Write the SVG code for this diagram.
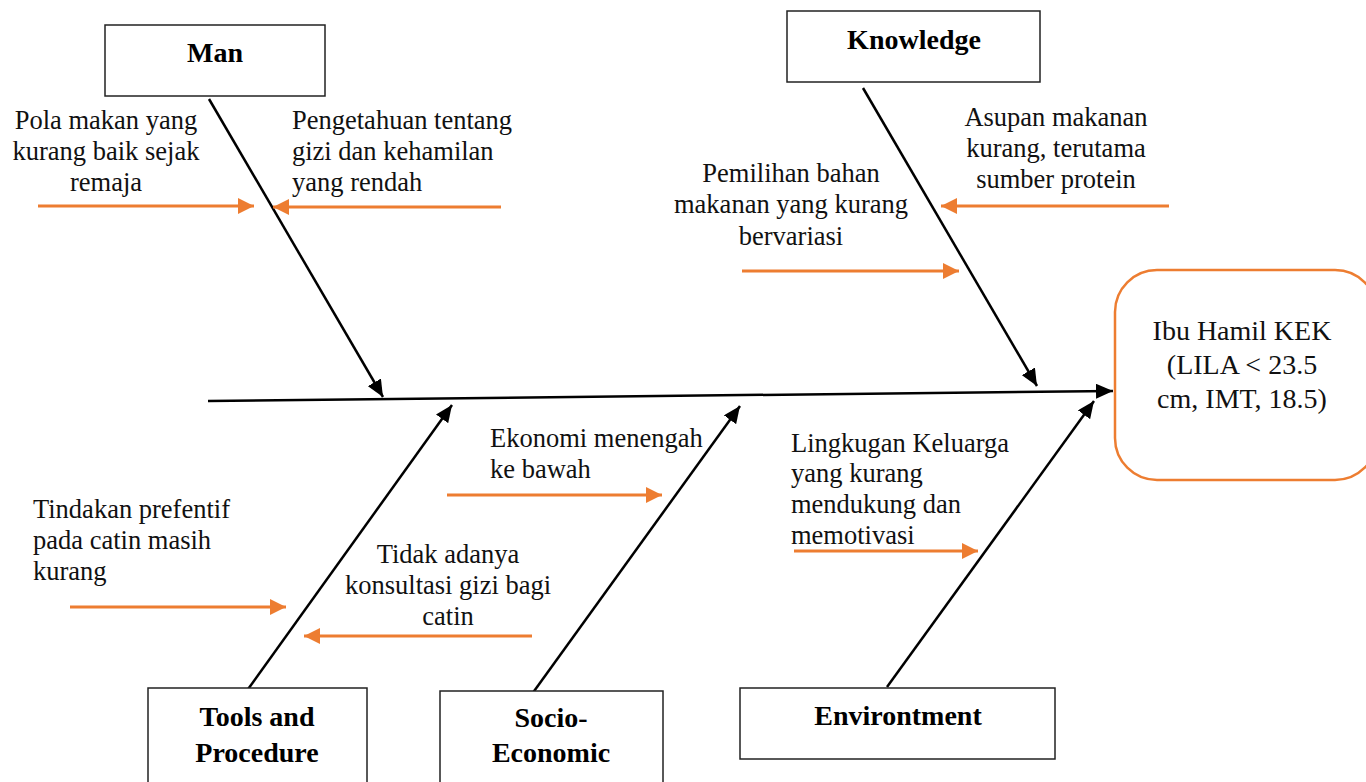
<svg xmlns="http://www.w3.org/2000/svg" width="1366" height="782" viewBox="0 0 1366 782">
<style>
.box{fill:#fff;stroke:#222;stroke-width:1.5}
.lbl{font-family:"Liberation Serif",serif;font-weight:bold;font-size:28px;fill:#000;text-anchor:middle}
.t{font-family:"Liberation Serif",serif;font-size:26.5px;fill:#111}
.c{text-anchor:middle}
.bone{stroke:#000;stroke-width:2.5;fill:none;marker-end:url(#ab)}
.sub{stroke:#ED7D31;stroke-width:3;fill:none;marker-end:url(#ao)}
</style>
<defs>
<marker id="ab" markerUnits="userSpaceOnUse" markerWidth="18" markerHeight="15" refX="17" refY="7.5" orient="auto"><path d="M0,0 L17,7.5 L0,15 z" fill="#000"/></marker>
<marker id="ao" markerUnits="userSpaceOnUse" markerWidth="17" markerHeight="16" refX="16" refY="8" orient="auto"><path d="M0,0 L16,8 L0,16 z" fill="#ED7D31"/></marker>
</defs>
<rect width="1366" height="782" fill="#fff"/>
<g id="connectors">
<line class="bone" x1="208" y1="401" x2="1113" y2="391"/>
<line class="bone" x1="209" y1="99" x2="383" y2="397"/>
<line class="bone" x1="863" y1="88" x2="1037" y2="386"/>
<line class="bone" x1="246" y1="692" x2="452" y2="405"/>
<line class="bone" x1="532" y1="694" x2="740" y2="406"/>
<line class="bone" x1="887" y1="687" x2="1094" y2="401"/>
<line class="sub" x1="38" y1="206" x2="254" y2="206"/>
<line class="sub" x1="501" y1="207" x2="273" y2="207"/>
<line class="sub" x1="1169" y1="206" x2="941" y2="206"/>
<line class="sub" x1="742" y1="271" x2="959" y2="271"/>
<line class="sub" x1="447" y1="495" x2="662" y2="495"/>
<line class="sub" x1="70" y1="607" x2="286" y2="607"/>
<line class="sub" x1="532" y1="636" x2="304" y2="636"/>
<line class="sub" x1="794" y1="551" x2="978" y2="551"/>
</g>
<g id="man"><rect class="box" x="105" y="25" width="220" height="71"/><text class="lbl" x="215" y="62">Man</text></g>
<g id="knowledge"><rect class="box" x="787" y="11" width="253" height="71"/><text class="lbl" x="914" y="49">Knowledge</text></g>
<g id="tools"><rect class="box" x="148" y="688" width="219" height="120"/><text class="lbl" x="257" y="726">Tools and</text><text class="lbl" x="257" y="762">Procedure</text></g>
<g id="socio"><rect class="box" x="440" y="691" width="223" height="120"/><text class="lbl" x="551" y="727">Socio-</text><text class="lbl" x="551" y="762">Economic</text></g>
<g id="environment"><rect class="box" x="740" y="688" width="315" height="71"/><text class="lbl" x="898" y="725">Environtment</text></g>
<g id="effect"><rect x="1115" y="270" width="262" height="210" rx="42" ry="42" fill="#fff" stroke="#ED7D31" stroke-width="2.5"/>
<text class="t c" style="font-size:28px" x="1242" y="340">Ibu Hamil KEK</text>
<text class="t c" style="font-size:28px" x="1242" y="374">(LILA &lt; 23.5</text>
<text class="t c" style="font-size:28px" x="1242" y="408">cm, IMT, 18.5)</text></g>
<g id="cause-pola"><text class="t c" x="106" y="129">Pola makan yang</text><text class="t c" x="106" y="160">kurang baik sejak</text><text class="t c" x="106" y="191">remaja</text></g>
<g id="cause-pengetahuan"><text class="t" x="292" y="129">Pengetahuan tentang</text><text class="t" x="292" y="160">gizi dan kehamilan</text><text class="t" x="292" y="191">yang rendah</text></g>
<g id="cause-asupan"><text class="t c" x="1056" y="126">Asupan makanan</text><text class="t c" x="1056" y="157">kurang, terutama</text><text class="t c" x="1056" y="188">sumber protein</text></g>
<g id="cause-pemilihan"><text class="t c" x="791" y="182">Pemilihan bahan</text><text class="t c" x="791" y="213">makanan yang kurang</text><text class="t c" x="791" y="245">bervariasi</text></g>
<g id="cause-ekonomi"><text class="t" x="490" y="447">Ekonomi menengah</text><text class="t" x="490" y="478">ke bawah</text></g>
<g id="cause-tindakan"><text class="t" x="33" y="518">Tindakan prefentif</text><text class="t" x="33" y="549">pada catin masih</text><text class="t" x="33" y="580">kurang</text></g>
<g id="cause-konsultasi"><text class="t c" x="448" y="563">Tidak adanya</text><text class="t c" x="448" y="594">konsultasi gizi bagi</text><text class="t c" x="448" y="625">catin</text></g>
<g id="cause-lingkungan"><text class="t" x="791" y="452">Lingkugan Keluarga</text><text class="t" x="791" y="482">yang kurang</text><text class="t" x="791" y="513">mendukung dan</text><text class="t" x="791" y="544">memotivasi</text></g>
</svg>
